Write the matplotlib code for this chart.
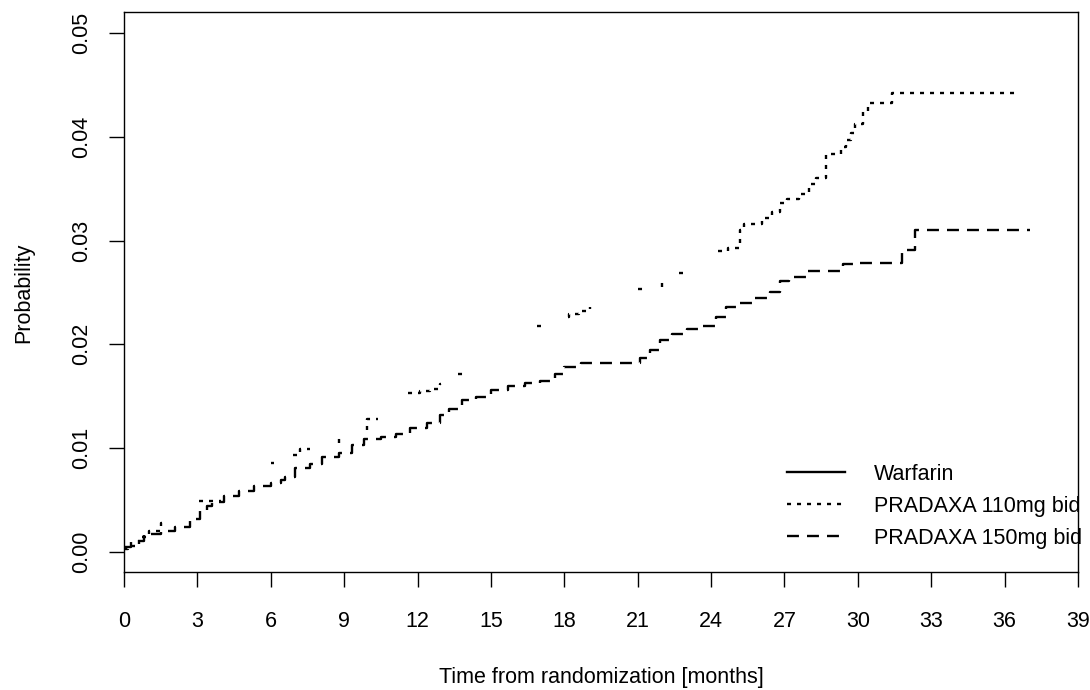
import numpy as np
import matplotlib
matplotlib.use("Agg")
import matplotlib.pyplot as plt
from matplotlib.lines import Line2D

plt.rcParams['font.family'] = ['Liberation Sans', 'DejaVu Sans']
plt.rcParams['lines.scale_dashes'] = False

# PRADAXA 150mg bid - cumulative probability (step curve)
t150 = [0, 0.3, 0.8, 1.5, 2.1, 2.7, 3.1, 3.4, 3.6, 4.1, 4.7, 5.3, 6.0, 6.4, 6.6,
        7.0, 7.6, 8.1, 8.8, 9.3, 9.8, 10.5, 11.1, 11.7, 12.4, 12.9, 13.3, 13.8,
        14.4, 15.0, 15.7, 16.4, 17.0, 17.6, 18.0, 18.7, 21.1, 21.5, 21.9, 22.4,
        23.0, 23.6, 24.2, 24.6, 25.1, 25.7, 26.4, 26.8, 27.2, 27.9, 29.4, 29.8,
        31.8, 32.35, 37.05]
p150 = [0.0005, 0.0010, 0.0017, 0.0020, 0.0024, 0.0032, 0.0040, 0.0044, 0.0048,
        0.0054, 0.0059, 0.0063, 0.0066, 0.0069, 0.0072, 0.0081, 0.0085, 0.0091,
        0.0095, 0.0103, 0.0109, 0.0111, 0.0114, 0.0119, 0.0124, 0.0132, 0.0138,
        0.0146, 0.0149, 0.0156, 0.0160, 0.0163, 0.0165, 0.0171, 0.0178, 0.0182,
        0.0187, 0.0195, 0.0204, 0.0210, 0.0215, 0.0218, 0.0226, 0.0236, 0.0240,
        0.0245, 0.0250, 0.0261, 0.0265, 0.0271, 0.0277, 0.0278, 0.0291, 0.0310,
        0.0310]

# PRADAXA 110mg bid - only the visible pieces of the dotted curve (nan = gap)
nan = np.nan
t110 = [0, 0.15, 0.6, 1.0, 1.5, 1.8, nan,
        3.05, 3.95, nan,
        6.0, 6.15, nan,
        6.9, 7.2, 7.6, nan,
        8.8, 8.8, nan,
        9.95, 9.95, 10.4, nan,
        11.6, 12.1, 12.5, 12.9, 12.95, nan,
        13.65, 13.85, nan,
        16.9, 17.05, nan,
        18.15, 18.2, 18.6, 19.05, nan,
        21.0, 21.2, nan,
        22.0, 22.0, nan,
        22.7, 22.85, nan,
        24.3, 24.7, 25.2, 25.35, 26.1, 26.5, 26.8, 27.1, 27.6, 28.0, 28.3, 28.7,
        29.3, 29.5, 29.7, 29.9, 30.2, 30.4, 31.4, 36.5]
p110 = [0.0003, 0.0006, 0.0014, 0.0020, 0.0028, 0.0028, nan,
        0.0049, 0.0049, nan,
        0.0086, 0.0086, nan,
        0.0093, 0.0099, 0.0099, nan,
        0.0105, 0.0110, nan,
        0.0117, 0.0128, 0.0128, nan,
        0.0153, 0.0155, 0.0157, 0.0162, 0.0162, nan,
        0.0171, 0.0171, nan,
        0.0218, 0.0218, nan,
        0.0226, 0.0229, 0.0232, 0.0236, nan,
        0.0253, 0.0253, nan,
        0.0255, 0.0260, nan,
        0.0269, 0.0269, nan,
        0.0290, 0.0293, 0.0310, 0.0316, 0.0322, 0.0328, 0.0336, 0.0340, 0.0345,
        0.0355, 0.0360, 0.0384, 0.0390, 0.0397, 0.0404, 0.0412, 0.0425, 0.0433,
        0.0442, 0.0442]

labels = ["Warfarin", "PRADAXA 110mg bid", "PRADAXA 150mg bid"]
xticks = list(range(0, 40, 3))
yticks = [0.00, 0.01, 0.02, 0.03, 0.04, 0.05]

dotted = (0, (2.9, 4.3))
dashed = (0, (8.6, 5.8))

fig = plt.figure(figsize=(10.9, 6.9), dpi=100)
ax = fig.add_axes([0.1138, 0.1703, 0.8752, 0.8116])

ax.plot(t110, p110, color='black', lw=1.7, linestyle=dotted, drawstyle='steps-post')
ax.plot(t150, p150, color='black', lw=1.7, linestyle=dashed, drawstyle='steps-post')

ax.set_xlim(0, 39)
ax.set_ylim(-0.002, 0.052)
ax.set_xticks(xticks)
ax.set_yticks(yticks)
ax.set_yticklabels([f"{v:.2f}" for v in yticks], rotation=90, va='center')
ax.tick_params(axis='both', direction='out', length=10.8, width=1.0, labelsize=15.5, color='black')
ax.tick_params(axis='x', pad=17)
ax.tick_params(axis='y', pad=12)
for s in ax.spines.values():
    s.set_linewidth(1.0)

ax.set_xlabel("Time from randomization [months]", fontsize=15.5, labelpad=25)
ax.set_ylabel("Probability", fontsize=15.5, labelpad=27)

handles = [Line2D([], [], color='black', lw=1.7, linestyle='-'),
           Line2D([], [], color='black', lw=1.7, linestyle=dotted),
           Line2D([], [], color='black', lw=1.7, linestyle=dashed)]
ax.legend(handles, labels, loc='upper left', bbox_to_anchor=(787 / 1090, 1 - 464 / 690),
          bbox_transform=fig.transFigure, frameon=False, fontsize=15.5,
          handlelength=2.7, handletextpad=1.35, labelspacing=0.5, borderpad=0,
          borderaxespad=0)

fig.savefig("out.png", dpi=100)
